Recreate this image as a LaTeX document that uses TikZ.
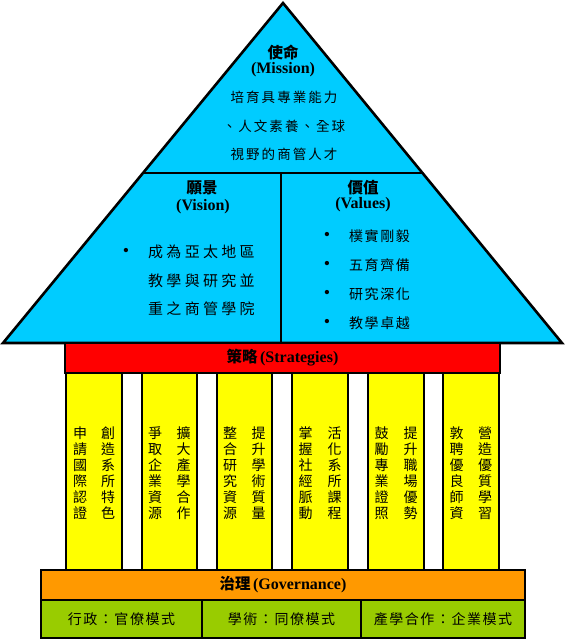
\documentclass[tikz,border=0pt]{standalone}
\usepackage{fontspec}
\setmainfont{Liberation Serif}
\newfontfamily\cjk{Noto Sans CJK TC}
\definecolor{sky}{RGB}{0,204,255}
\definecolor{pillarY}{RGB}{255,255,0}
\definecolor{govO}{RGB}{255,153,0}
\definecolor{baseG}{RGB}{153,204,0}
\tikzset{
  roof/.style={draw=black,line width=2.6pt,fill=sky,line join=miter},
  divider/.style={draw=black,line width=2.6pt},
  bar/.style={draw=black,line width=2.6pt,inner sep=0pt,minimum height=30pt},
  pillar/.style={draw=black,line width=2pt,fill=pillarY,inner sep=0pt,minimum height=197pt},
  basebox/.style={draw=black,line width=2.6pt,fill=baseG,inner sep=0pt,minimum height=38pt,
    font=\cjk\fontsize{14}{14}\selectfont\addfontfeatures{LetterSpace=11}},
  title/.style={inner sep=0pt,font=\cjk\bfseries\fontsize{15.5}{15.5}\selectfont},
  entitle/.style={inner sep=0pt,font=\bfseries\fontsize{16}{16}\selectfont},
  col/.style={inner sep=0pt,align=center,font=\cjk\fontsize{14}{16}\selectfont},
  body/.style={inner sep=0pt,align=center,font=\cjk\fontsize{13.5}{28.5}\selectfont\addfontfeatures{LetterSpace=15}},
  dot/.style={inner sep=0pt,font=\fontsize{18}{18}\selectfont},
}
\begin{document}
\begin{tikzpicture}[x=1pt,y=-1pt]
\useasboundingbox (0,0) rectangle (565,641);
% roof
\coordinate (apex) at (283,3);
\coordinate (bl) at (3,343);
\coordinate (br) at (562,343);
\coordinate (hl) at (143,173);
\coordinate (hr) at (423,173);
\coordinate (vt) at (281,173);
\coordinate (vb) at (281,343);
\path[roof] (apex) -- (br) -- (bl) -- cycle;
\draw[divider] (hl) -- (hr);
\draw[divider] (vt) -- (vb);
% mission
\node[title] (mt) at (283,52) {使命};
\node[entitle] (me) at (283,70) {(Mission)};
\node[body] (mb) at (284,126) {培育具專業能力\\、人文素養、全球\\視野的商管人才};
% vision
\node[title] (vt1) at (202,188) {願景};
\node[entitle] (ve) at (203,207) {(Vision)};
\node[dot] (vbul) at (126,252) {\textbullet};
\node[inner sep=0pt,anchor=west,align=left,font=\cjk\fontsize{15}{28.5}\selectfont\addfontfeatures{LetterSpace=22}] (vtext) at (148,280.5) {成為亞太地區\\教學與研究並\\重之商管學院};
% values
\node[title] (va1) at (363,188) {價值};
\node[entitle] (vae) at (363,205) {(Values)};
\node[dot] (b1) at (327,236) {\textbullet};
\node[dot] (b2) at (327,265) {\textbullet};
\node[dot] (b3) at (327,294) {\textbullet};
\node[dot] (b4) at (327,323) {\textbullet};
\node[inner sep=0pt,anchor=west,align=left,font=\cjk\fontsize{14}{29}\selectfont\addfontfeatures{LetterSpace=11}] (vatext) at (349,279.5) {樸實剛毅\\五育齊備\\研究深化\\教學卓越};
% pillars
\node[pillar,minimum width=56pt] (p1) at (94,471.5) {};
\node[pillar,minimum width=55pt] (p2) at (169.5,471.5) {};
\node[pillar,minimum width=55pt] (p3) at (244.5,471.5) {};
\node[pillar,minimum width=56pt] (p4) at (320,471.5) {};
\node[pillar,minimum width=56pt] (p5) at (396,471.5) {};
\node[pillar,minimum width=56pt] (p6) at (471,471.5) {};
\node[col] (p1r) at (108,473) {創\\造\\系\\所\\特\\色};
\node[col] (p1l) at (80,473) {申\\請\\國\\際\\認\\證};
\node[col] (p2r) at (183.5,473) {擴\\大\\產\\學\\合\\作};
\node[col] (p2l) at (155,473) {爭\\取\\企\\業\\資\\源};
\node[col] (p3r) at (258.5,473) {提\\升\\學\\術\\質\\量};
\node[col] (p3l) at (230,473) {整\\合\\研\\究\\資\\源};
\node[col] (p4r) at (334.5,473) {活\\化\\系\\所\\課\\程};
\node[col] (p4l) at (305.5,473) {掌\\握\\社\\經\\脈\\動};
\node[col] (p5r) at (410.5,473) {提\\升\\職\\場\\優\\勢};
\node[col] (p5l) at (381.5,473) {鼓\\勵\\專\\業\\證\\照};
\node[col] (p6r) at (485,473) {營\\造\\優\\質\\學\\習};
\node[col] (p6l) at (456.5,473) {敦\\聘\\優\\良\\師\\資};
% strategies bar
\node[bar,fill=red,minimum width=435pt] (strat) at (282.5,358) {{\cjk\bfseries\fontsize{15.5}{15.5}\selectfont 策略} {\bfseries\fontsize{16}{16}\selectfont (Strategies)}};
% governance
\node[bar,fill=govO,minimum width=484pt] (gov) at (283,585) {{\cjk\bfseries\fontsize{15.5}{15.5}\selectfont 治理} {\bfseries\fontsize{16}{16}\selectfont (Governance)}};
\node[basebox,minimum width=161pt] (g1) at (121.5,619) {行政：官僚模式};
\node[basebox,minimum width=159pt] (g2) at (281.5,619) {學術：同僚模式};
\node[basebox,minimum width=164pt] (g3) at (443,619) {產學合作：企業模式};
\end{tikzpicture}
\end{document}
